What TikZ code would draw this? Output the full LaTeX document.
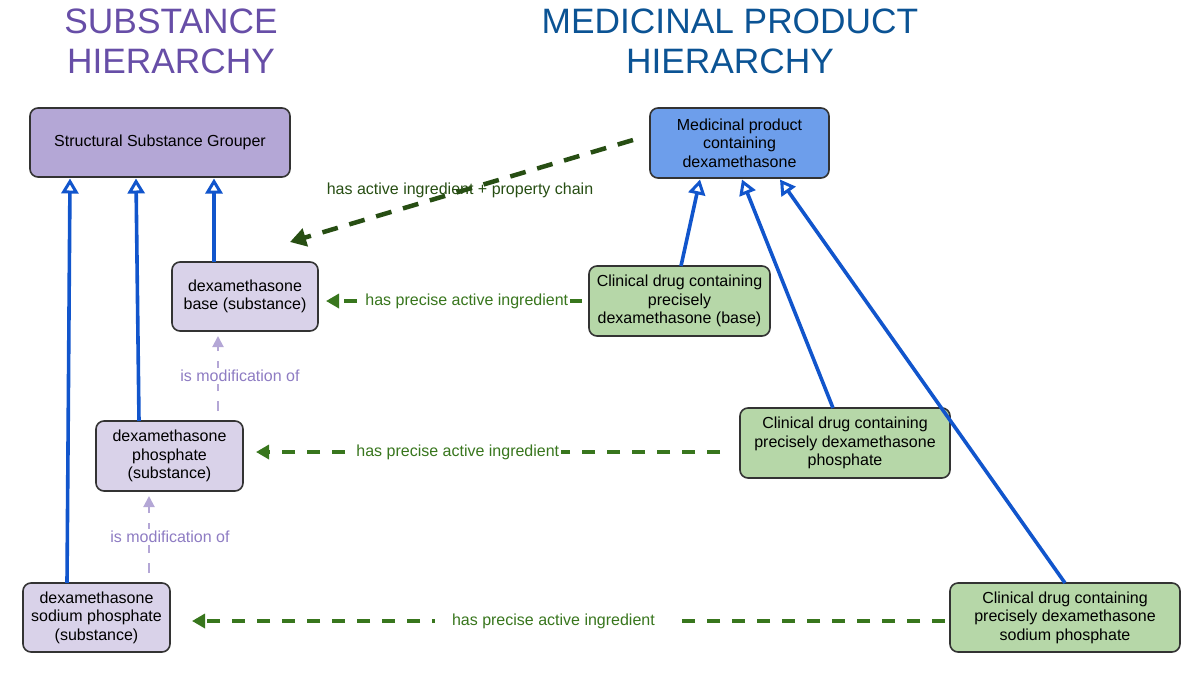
\documentclass[tikz,border=0pt]{standalone}
\usepackage{fontspec}
\setmainfont{Liberation Sans}
\usetikzlibrary{arrows.meta}
\definecolor{subfill}{HTML}{B4A7D6}
\definecolor{subfilllt}{HTML}{D9D2E9}
\definecolor{mpfill}{HTML}{6D9EEB}
\definecolor{cdfill}{HTML}{B6D7A8}
\definecolor{isablue}{HTML}{1155CC}
\definecolor{dkgreen}{HTML}{274E13}
\definecolor{mgreen}{HTML}{38761D}
\definecolor{titlepurple}{HTML}{674EA7}
\definecolor{titleblue}{HTML}{0B5394}
\definecolor{modpurple}{HTML}{B4A7D6}
\definecolor{modtext}{HTML}{8E7CC3}
\tikzset{
  box/.style={draw=black!80, line width=1.6pt, rounded corners=8pt, align=center,
    font=\fontsize{16}{18.5}\selectfont, inner sep=0pt, anchor=center},
  isa/.style={draw=isablue, line width=3.6pt, -{Triangle[open,width=17pt,length=15pt,line width=3pt]}},
  hai/.style={draw=mgreen, line width=3.5pt, dash pattern=on 13pt off 12pt, -{Triangle[width=14pt,length=13pt]}},
  hapc/.style={draw=dkgreen, line width=4.5pt, dash pattern=on 16pt off 12pt, -{Triangle[width=18pt,length=16pt]}},
  mod/.style={draw=modpurple, line width=2pt, dash pattern=on 10pt off 10pt, -{Triangle[width=11pt,length=11pt]}},
  lbl/.style={fill=white, inner sep=2pt, font=\fontsize{16}{18}\selectfont},
  ttl/.style={align=center, font=\fontsize{35.3}{40}\selectfont}
}
\begin{document}
\begin{tikzpicture}[x=1pt,y=-1pt]
\useasboundingbox (0,0) rectangle (1200,681);
% titles
\node[ttl, text=titlepurple] (t1) at (171,41) {SUBSTANCE\\HIERARCHY};
\node[ttl, text=titleblue] (t2) at (730,41) {MEDICINAL PRODUCT\\HIERARCHY};
% substance boxes
\node[box, fill=subfill, minimum width=260pt, minimum height=69pt] (ssg) at (160,142.5) {Structural Substance Grouper};
\node[box, fill=subfilllt, minimum width=146pt, minimum height=69pt] (base) at (245,296.5) {dexamethasone\\base (substance)};
\node[box, fill=subfilllt, minimum width=147pt, minimum height=70pt] (phos) at (169.5,456) {dexamethasone\\phosphate\\(substance)};
\node[box, fill=subfilllt, minimum width=147pt, minimum height=69pt] (sod) at (96.5,617.5) {dexamethasone\\sodium phosphate\\(substance)};
% product boxes
\node[box, fill=mpfill, minimum width=179pt, minimum height=70pt] (mp) at (739.5,143) {Medicinal product\\containing\\dexamethasone};
\node[box, fill=cdfill, minimum width=181pt, minimum height=70pt] (cdb) at (679.5,301) {Clinical drug containing\\precisely\\dexamethasone (base)};
\node[box, fill=cdfill, minimum width=210pt, minimum height=70pt] (cdp) at (845,443) {Clinical drug containing\\precisely dexamethasone\\phosphate};
\node[box, fill=cdfill, minimum width=230pt, minimum height=69pt] (cds) at (1065,617.5) {Clinical drug containing\\precisely dexamethasone\\sodium phosphate};
% is-a arrows
\coordinate (s1) at (67,583); \coordinate (e1) at (70,178.5);
\coordinate (s2) at (139,421); \coordinate (e2) at (136,178.5);
\coordinate (s3) at (214,262); \coordinate (e3) at (214,178.5);
\draw[isa] (s1) -- (e1);
\draw[isa] (s2) -- (e2);
\draw[isa] (s3) -- (e3);
\coordinate (s4) at (681,266); \coordinate (e4) at (700,179.5);
\coordinate (s5) at (833,408); \coordinate (e5) at (742,179.5);
\coordinate (s6) at (1065,583); \coordinate (e6) at (780,179.5);
\draw[isa] (s4) -- (e4);
\draw[isa] (s5) -- (e5);
\draw[isa] (s6) -- (e6);
% has active ingredient + property chain
\coordinate (pcs) at (633,140); \coordinate (pce) at (290,242);
\draw[hapc] (pcs) -- (pce);
\node[lbl, text=dkgreen, fill=none] (pcl) at (460,190) {has active ingredient + property chain};
% has precise active ingredient
\coordinate (hbs) at (582,301); \coordinate (hbe) at (326,301);
\draw[hai] (hbs) -- (hbe) node[pos=0.45, lbl, text=mgreen] {has precise active ingredient};
\coordinate (hps) at (720,452); \coordinate (hpe) at (256,452);
\draw[hai] (hps) -- (hpe) node[pos=0.565, lbl, text=mgreen] {has precise active ingredient};
\coordinate (hss) at (945,621); \coordinate (hse) at (192,621);
\draw[hai] (hss) -- (hse) node[pos=0.52, lbl, text=mgreen, inner xsep=17pt] {has precise active ingredient};
% is modification of
\coordinate (m1s) at (218,411); \coordinate (m1e) at (218,336);
\draw[mod] (m1s) -- (m1e);
\node[lbl, text=modtext] (m1l) at (240,376) {is modification of};
\coordinate (m2s) at (149,573); \coordinate (m2e) at (149,496);
\draw[mod] (m2s) -- (m2e);
\node[lbl, text=modtext] (m2l) at (170,537) {is modification of};
\end{tikzpicture}
\end{document}
